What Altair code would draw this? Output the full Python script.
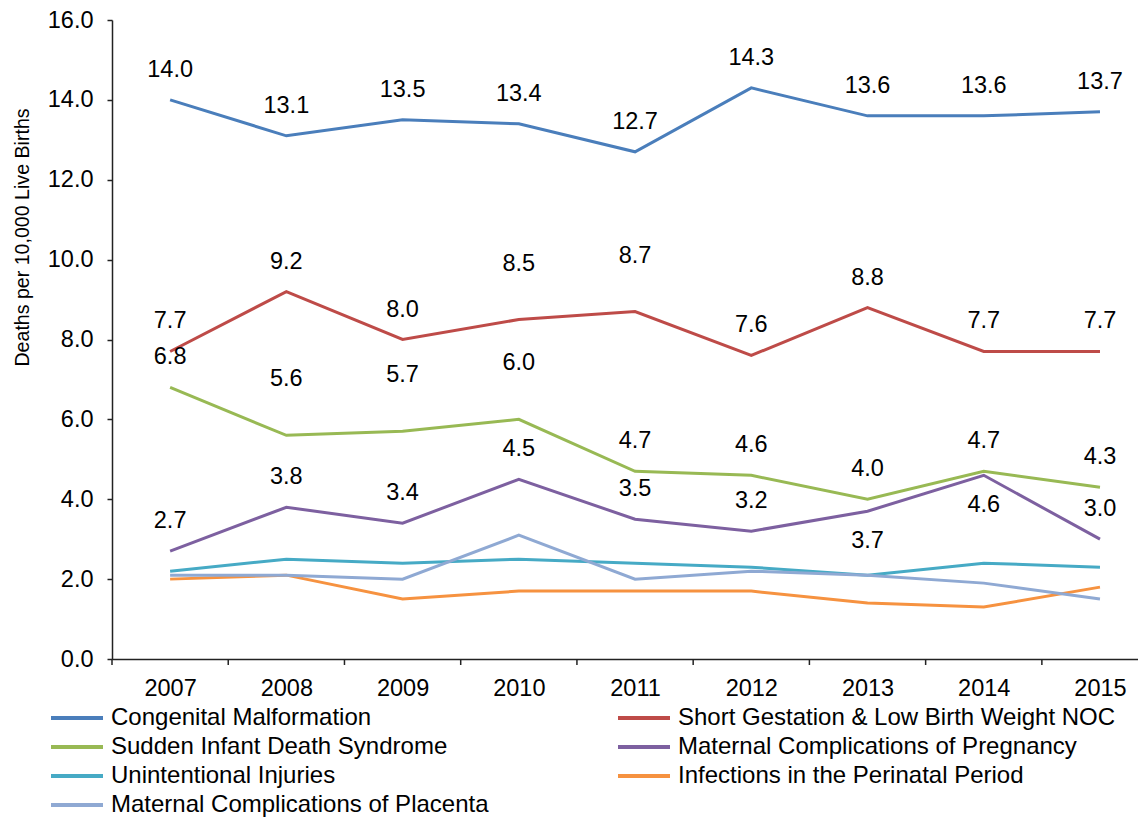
import altair as alt
import pandas as pd

years = [2007, 2008, 2009, 2010, 2011, 2012, 2013, 2014, 2015]

series_names = [
    "Congenital Malformation",
    "Short Gestation & Low Birth Weight NOC",
    "Sudden Infant Death Syndrome",
    "Maternal Complications of Pregnancy",
    "Unintentional Injuries",
    "Infections in the Perinatal Period",
    "Maternal Complications of Placenta",
]
series_colors = ["#4a7ebb", "#be4b48", "#98b954", "#7d60a0", "#46aac5", "#f69240", "#8fa9d3"]

congenital = [14.0, 13.1, 13.5, 13.4, 12.7, 14.3, 13.6, 13.6, 13.7]
short_gestation = [7.7, 9.2, 8.0, 8.5, 8.7, 7.6, 8.8, 7.7, 7.7]
sids = [6.8, 5.6, 5.7, 6.0, 4.7, 4.6, 4.0, 4.7, 4.3]
maternal_pregnancy = [2.7, 3.8, 3.4, 4.5, 3.5, 3.2, 3.7, 4.6, 3.0]
unintentional = [2.2, 2.5, 2.4, 2.5, 2.4, 2.3, 2.1, 2.4, 2.3]
infections = [2.0, 2.1, 1.5, 1.7, 1.7, 1.7, 1.4, 1.3, 1.8]
placenta = [2.1, 2.1, 2.0, 3.1, 2.0, 2.2, 2.1, 1.9, 1.5]

# data-label placement (Excel style)
place_congenital = ["above"] * 9
place_short = ["above", "above", "above", "high", "high", "above", "above", "above", "above"]
place_sids = ["above", "high", "high", "high", "above", "above", "above", "above", "above"]
place_pregnancy = ["above", "above", "above", "above", "above", "above", "below", "below", "above"]

all_values = [congenital, short_gestation, sids, maternal_pregnancy, unintentional, infections, placenta]
all_places = [place_congenital, place_short, place_sids, place_pregnancy, None, None, None]

rows = []
for si, (name, vals, places) in enumerate(zip(series_names, all_values, all_places)):
    for i, (yr, v) in enumerate(zip(years, vals)):
        rows.append({
            "year": yr,
            "value": v,
            "series": name,
            "order": si,
            "place": places[i] if places else "none",
        })
df = pd.DataFrame(rows)
ticks_df = pd.DataFrame({"year": years})

# legend is filled column by column: reorder so it reads row by row in 2 columns
legend_order = series_names[0::2] + series_names[1::2]
legend_colors = [series_colors[series_names.index(s)] for s in legend_order]

FONT = "Liberation Sans"
W, H = 1026, 639

x_scale = alt.Scale(domain=[2006.5, 2015.327], nice=False, zero=False)

x_enc = alt.X(
    "year:Q",
    scale=x_scale,
    axis=alt.Axis(
        title=None,
        values=years,
        format="d",
        labelAlign="center",
        labelFlush=False,
        labelOverlap=False,
        labelPadding=17,
        ticks=False,
        grid=False,
    ),
)
y_enc = alt.Y(
    "value:Q",
    scale=alt.Scale(domain=[0, 16], nice=False),
    axis=alt.Axis(
        title="Deaths per 10,000 Live Births",
        values=[0, 2, 4, 6, 8, 10, 12, 14, 16],
        format=".1f",
        tickSize=5,
        labelPadding=14,
        grid=False,
        titleX=-90,
        titleY=217,
        titleAlign="center",
        titleBaseline="middle",
        titleFontSize=19.6,
        titleFontWeight="normal",
    ),
)

lines = alt.Chart(df).mark_line(strokeWidth=3).encode(
    x=x_enc,
    y=y_enc,
    color=alt.Color(
        "series:N",
        scale=alt.Scale(domain=legend_order, range=legend_colors),
        legend=alt.Legend(
            title=None,
            orient="none",
            legendX=-63,
            legendY=686,
            columns=2,
            columnPadding=121,
            rowPadding=5,
            symbolType="M-1,0H4.2",
            symbolSize=400,
            symbolStrokeWidth=4,
            labelFontSize=24,
            labelFont=FONT,
            labelLimit=600,
            labelOffset=38,
            padding=0,
        ),
    ),
    order=alt.Order("order:Q"),
    detail="series:N",
)

# category-boundary tick marks under the x axis (Excel "between categories")
x_ticks = (
    alt.Chart(ticks_df)
    .transform_calculate(edge="datum.year - 0.5")
    .mark_rule(color="#222222", strokeWidth=1.5)
    .encode(x=alt.X("edge:Q", scale=x_scale), y=alt.value(H), y2=alt.value(H + 6))
)

offsets = {"above": -30, "high": -56, "below": 30}
labels = []
for place, dy in offsets.items():
    labels.append(
        alt.Chart(df)
        .transform_filter(alt.datum.place == place)
        .mark_text(fontSize=23.5, font=FONT, color="#000000", dy=dy)
        .encode(x="year:Q", y="value:Q", text=alt.Text("value:Q", format=".1f"))
    )

chart = (
    alt.layer(lines, x_ticks, *labels)
    .properties(
        width=W,
        height=H,
        padding={"left": 104, "top": 12, "right": 0, "bottom": 162},
        autosize=alt.AutoSizeParams(type="none"),
    )
    .configure_view(stroke=None)
    .configure_axis(
        labelFont=FONT,
        titleFont=FONT,
        labelFontSize=23.5,
        labelColor="#000000",
        titleColor="#000000",
        domainColor="#222222",
        domainWidth=1.5,
        tickColor="#222222",
        tickWidth=1.5,
    )
)

chart.save("out.html", embed_options={"renderer": "svg", "actions": False})
